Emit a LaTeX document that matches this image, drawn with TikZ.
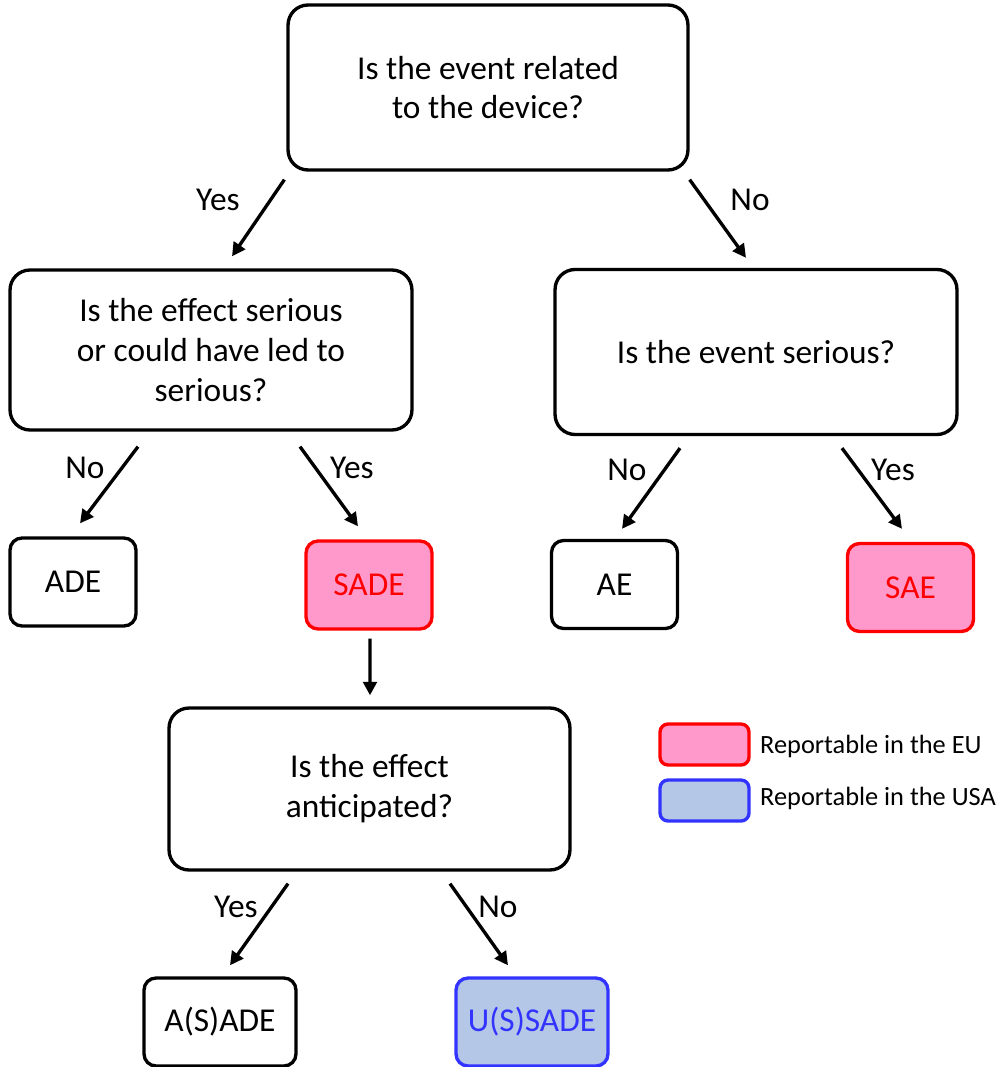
\documentclass[tikz,border=0pt]{standalone}
\usepackage{fontspec}
\setmainfont{Carlito}
\usetikzlibrary{arrows.meta,calc}
\definecolor{eufill}{HTML}{FF99CC}
\definecolor{euline}{HTML}{FF0000}
\definecolor{usfill}{HTML}{B4C7E7}
\definecolor{usline}{HTML}{3333FF}
\begin{document}
\begin{tikzpicture}[x=0.02cm, y=-0.02cm,
    qbox/.style={draw, line width=1.9pt, rounded corners=0.4cm, align=center,
      font=\fontsize{19}{22.7}\selectfont},
    ebox/.style={draw, line width=1.9pt, rounded corners=0.24cm,
      minimum width=2.52cm, minimum height=1.76cm, font=\fontsize{19}{22.7}\selectfont},
    eu/.style={fill=eufill, draw=euline, text=euline},
    usa/.style={fill=usfill, draw=usline, text=usline},
    arr/.style={-{Triangle[length=0.27cm,width=0.27cm]}, line width=1.9pt},
    lbl/.style={font=\fontsize{19}{22.7}\selectfont},
    key/.style={draw, line width=1.9pt, rounded corners=0.16cm,
      minimum width=1.78cm, minimum height=0.82cm},
    keytxt/.style={anchor=west, font=\fontsize{15}{17}\selectfont}]
    \useasboundingbox (0,0) rectangle (997,1067);

    % questions
    \node[qbox, minimum width=8cm, minimum height=3.3cm] (qdev) at (488,87.5) {Is the event related\\to the device?};
    \node[qbox, minimum width=8.04cm, minimum height=3.2cm] (qeff) at (211,350) {Is the effect serious\\or could have led to\\serious?};
    \node[qbox, minimum width=8.04cm, minimum height=3.3cm] (qser) at (756,352) {Is the event serious?};
    \node[qbox, minimum width=8.02cm, minimum height=3.24cm] (qant) at (369.5,789) {Is the effect\\anticipated?};

    % outcomes
    \node[ebox] (ade) at (73,582) {ADE};
    \node[ebox, eu] (sade) at (369,585) {SADE};
    \node[ebox] (ae) at (614.5,584.5) {AE};
    \node[ebox, eu] (sae) at (910.5,587.5) {SAE};
    \node[ebox, minimum width=3.04cm] (asade) at (220,1022) {A(S)ADE};
    \node[ebox, usa, minimum width=3.04cm] (usade) at (532,1022) {U(S)SADE};

    % arrows
    \draw[arr] ($(qdev.south west)+(-2,8)$) -- ($(qeff.north)+(21,-12)$);
    \draw[arr] ($(qdev.south east)+(0,8)$) -- ($(qser.north)+(-10,-10)$);
    \draw[arr] ($(qeff.south)+(-73,15)$) -- ($(ade.north)+(7,-13)$);
    \draw[arr] ($(qeff.south)+(89,15)$) -- ($(sade.north)+(-11,-13)$);
    \draw[arr] ($(qser.south)+(-76,12)$) -- ($(ae.north)+(7.5,-10)$);
    \draw[arr] ($(qser.south)+(86,12)$) -- ($(sae.north)+(-8.5,-13)$);
    \draw[arr] ($(sade.south)+(1,8)$) -- ($(qant.north)+(0.5,-11)$);
    \draw[arr] ($(qant.south)+(-81.5,12)$) -- ($(asade.north)+(10,-11)$);
    \draw[arr] ($(qant.south)+(80.5,12)$) -- ($(usade.north)+(-24,-11)$);

    % answers
    \node[lbl] (y1) at (218,200) {Yes};
    \node[lbl] (n1) at (750,200) {No};
    \node[lbl] (n2) at (85,468) {No};
    \node[lbl] (y2) at (352,468) {Yes};
    \node[lbl] (n3) at (627,470) {No};
    \node[lbl] (y3) at (893,470) {Yes};
    \node[lbl] (y4) at (236,907) {Yes};
    \node[lbl] (n4) at (498,907) {No};

    % legend
    \node[key, eu] (keyeu) at (704.5,744.5) {};
    \node[key, usa] (keyusa) at (704.5,800.5) {};
    \node[keytxt] (txteu) at (754,746) {Reportable in the EU};
    \node[keytxt] (txtusa) at (754,798) {Reportable in the USA};
\end{tikzpicture}
\end{document}
